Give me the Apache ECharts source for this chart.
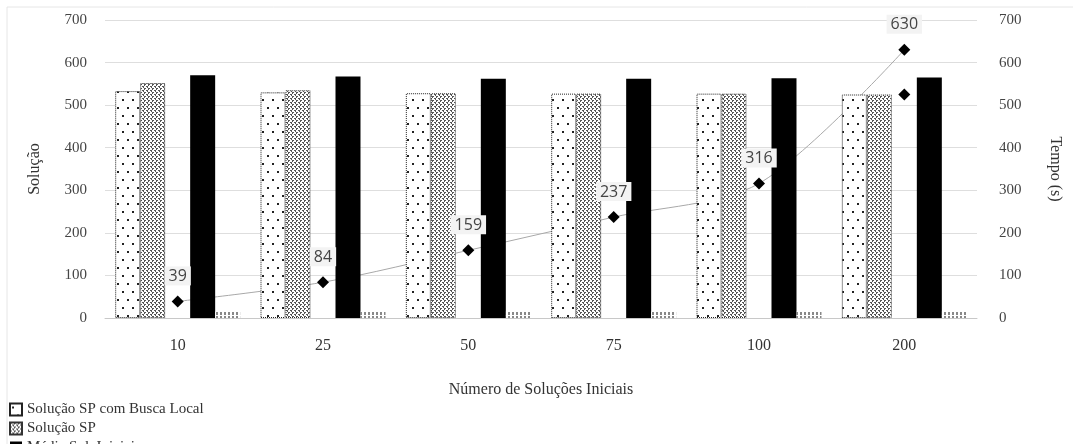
<!DOCTYPE html>
<html>
<head>
<meta charset="utf-8">
<script src="https://cdn.jsdelivr.net/npm/echarts@6/dist/echarts.min.js"></script>
<style>
  html, body { margin: 0; padding: 0; background: #fff; }
  #chart { width: 1073px; height: 444px; }
</style>
</head>
<body>
<div id="chart"></div>
<script>
const categories = ['10', '25', '50', '75', '100', '200']
const buscaLocal = [533, 530, 528, 527, 527, 525]
const solucaoSP = [552, 535, 528, 527, 527, 525]
const solIniciais = [570, 567, 562, 562, 563, 565]
const pequenas = [15, 15, 15, 15, 15, 15]
const tempo = [39, 84, 159, 237, 316, 630]
const tempoExtra = ['-', '-', '-', '-', '-', 525]
const axisTicks = [0, 100, 200, 300, 400, 500, 600, 700]

const serif = 'Liberation Serif'

// padroes de preenchimento (pontos, trama, listras)
function makePattern(w, h, draw) {
  const c = document.createElement('canvas')
  c.width = w
  c.height = h
  const ctx = c.getContext('2d')
  ctx.fillStyle = '#fff'
  ctx.fillRect(0, 0, w, h)
  draw(ctx)
  return { image: c, repeat: 'repeat' }
}
const dotPattern = makePattern(10, 16, ctx => {
  ctx.fillStyle = '#222'
  ctx.fillRect(2, 3, 2, 2)
  ctx.fillRect(7, 11, 2, 2)
})
const hatchPattern = makePattern(4, 4, ctx => {
  ctx.fillStyle = '#555'
  ctx.fillRect(0, 0, 2, 1)
  ctx.fillRect(2, 2, 2, 1)
  ctx.fillRect(0, 1, 1, 1)
  ctx.fillRect(3, 3, 1, 1)
})
const stripePattern = makePattern(4, 4, ctx => {
  ctx.fillStyle = '#888'
  ctx.fillRect(0, 0, 2, 3)
})

const myChart = echarts.init(document.getElementById('chart'))
const option = {
  animation: false,
  textStyle: { fontFamily: serif },
  graphic: [
    { type: 'line', shape: { x1: 7, y1: 7, x2: 1073, y2: 7 }, style: { stroke: '#e6e6e6', lineWidth: 1 } },
    { type: 'line', shape: { x1: 7, y1: 7, x2: 7, y2: 444 }, style: { stroke: '#e6e6e6', lineWidth: 1 } }
  ],
  legend: {
    orient: 'vertical',
    left: 4,
    top: 397,
    height: 80,
    itemGap: 4,
    itemWidth: 12,
    itemHeight: 12,
    icon: 'rect',
    textStyle: { fontFamily: serif, fontSize: 15, color: '#333' },
    data: ['Solução SP com Busca Local', 'Solução SP', 'Média Sol. Iniciais']
  },
  grid: {
    left: 105,
    right: 96,
    top: 20,
    bottom: 126
  },
  xAxis: {
    type: 'category',
    data: categories,
    name: 'Número de Soluções Iniciais',
    nameLocation: 'middle',
    nameGap: 64,
    nameTextStyle: { fontFamily: serif, fontSize: 16, color: '#333' },
    axisLine: { lineStyle: { color: '#c8c8c8' } },
    axisTick: { show: false },
    axisLabel: { margin: 20, fontSize: 16, color: '#333', fontFamily: serif }
  },
  yAxis: [
    {
      type: 'value',
      min: axisTicks[0],
      max: axisTicks[axisTicks.length - 1],
      interval: 100,
      name: 'Solução',
      nameLocation: 'middle',
      nameGap: 62,
      nameTextStyle: { fontFamily: serif, fontSize: 16, color: '#333' },
      axisLine: { show: false },
      axisTick: { show: false },
      axisLabel: { margin: 18, fontSize: 15, color: '#444', fontFamily: serif },
      splitLine: { lineStyle: { color: '#dedede' } }
    },
    {
      type: 'value',
      min: axisTicks[0],
      max: axisTicks[axisTicks.length - 1],
      interval: 100,
      name: 'Tempo (s)',
      nameLocation: 'middle',
      nameRotate: -90,
      nameGap: 70,
      nameTextStyle: { fontFamily: serif, fontSize: 16, color: '#333' },
      axisLine: { show: false },
      axisTick: { show: false },
      axisLabel: { margin: 22, fontSize: 15, color: '#444', fontFamily: serif },
      splitLine: { show: false }
    }
  ],
  series: [
    {
      name: 'Solução SP com Busca Local',
      type: 'bar',
      barGap: '0%',
      barCategoryGap: '14%',
      itemStyle: { color: dotPattern, borderColor: '#222', borderWidth: 1, borderType: 'dotted' },
      data: buscaLocal
    },
    {
      name: 'Solução SP',
      type: 'bar',
      itemStyle: { color: hatchPattern, borderColor: '#333', borderWidth: 1, borderType: 'dotted' },
      data: solucaoSP
    },
    {
      name: 'vazio',
      type: 'bar',
      data: categories.map(() => '-')
    },
    {
      name: 'Média Sol. Iniciais',
      type: 'bar',
      itemStyle: { color: '#000' },
      data: solIniciais
    },
    {
      name: 'Tempo SP',
      type: 'bar',
      itemStyle: { color: stripePattern },
      data: pequenas
    },
    {
      name: 'Tempo (s)',
      type: 'line',
      yAxisIndex: 1,
      z: 1,
      smooth: 0.3,
      lineStyle: { color: '#a8a8a8', width: 1 },
      symbol: 'none',
      data: tempo
    },
    {
      name: 'Tempo pontos',
      type: 'scatter',
      yAxisIndex: 1,
      z: 5,
      symbol: 'diamond',
      symbolSize: 12,
      itemStyle: { color: '#000', opacity: 1 },
      label: {
        show: true,
        position: 'top',
        distance: 10,
        fontFamily: 'Open Sans',
        fontSize: 16,
        color: '#444',
        backgroundColor: '#f3f3f3',
        padding: [2, 4, 1, 4]
      },
      data: tempo
    },
    {
      name: 'Tempo extra',
      type: 'scatter',
      yAxisIndex: 1,
      z: 5,
      symbol: 'diamond',
      symbolSize: 12,
      itemStyle: { color: '#000', opacity: 1 },
      data: tempoExtra
    }
  ]
}
myChart.setOption(option)
</script>
</body>
</html>
